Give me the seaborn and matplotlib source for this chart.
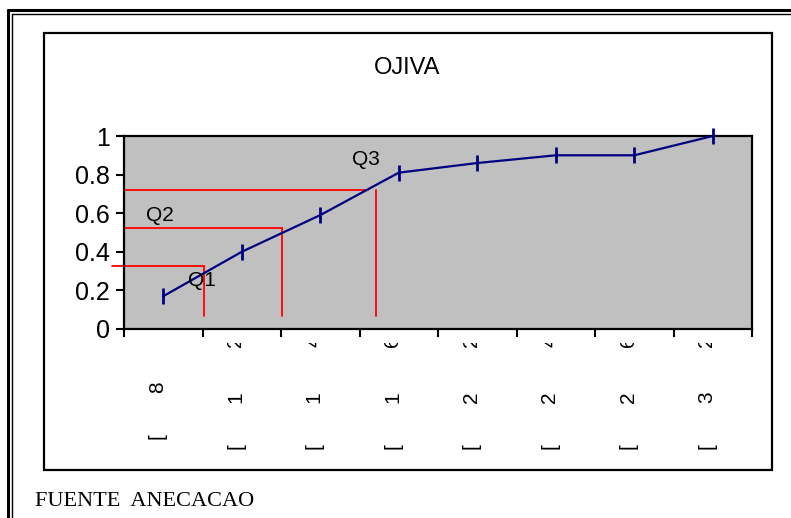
import numpy as np
import pandas as pd
import seaborn as sns
import matplotlib.pyplot as plt
from matplotlib.lines import Line2D
from matplotlib.patches import Rectangle
from matplotlib.transforms import Bbox, TransformedBbox

# data
clases = ["[8", "[12", "[14", "[16", "[22", "[24", "[26", "[32"]
ojiva = [0.17, 0.40, 0.59, 0.81, 0.86, 0.90, 0.90, 1.00]
y_ticks = [0, 0.2, 0.4, 0.6, 0.8, 1]
y_tick_labels = ["0", "0.2", "0.4", "0.6", "0.8", "1"]
cuartiles = ["Q1", "Q2", "Q3"]
q_nivel = [0.326, 0.523, 0.72]
q_x = [0.52, 1.51, 2.71]
q_h_ini = [-0.65, -0.5, -0.5]
q_h_fin = [0.52, 1.51, 2.61]
q_base = 0.067
q_lab_x = [0.49, -0.04, 2.58]
q_lab_y = [0.25, 0.59, 0.88]

sns.set_style("ticks")
plt.rcParams["font.family"] = ["Liberation Sans", "DejaVu Sans"]
plt.rcParams["text.color"] = "black"
plt.rcParams["xtick.color"] = "black"
plt.rcParams["ytick.color"] = "black"

W, H = 791, 518
fig = plt.figure(figsize=(W / 100, H / 100), dpi=100)
ax = fig.add_axes([124 / W, (H - 329) / H, 628 / W, 193 / H])
ax.set_facecolor("#c0c0c0")

df = pd.DataFrame({"pos": np.arange(len(clases)), "clase": clases, "ojiva": ojiva})
sns.lineplot(data=df, x="pos", y="ojiva", color="#000080", linewidth=1.6,
             marker="|", markersize=11, markeredgewidth=2,
             markeredgecolor="#000080", clip_on=False, zorder=3, ax=ax)

# quartile guide lines
for xi, yi, x0, x1 in zip(q_x, q_nivel, q_h_ini, q_h_fin):
    ax.plot([x0, x1], [yi, yi], color="red", lw=1.3, clip_on=False, zorder=2)
    ax.plot([xi, xi], [q_base, yi], color="red", lw=1.3, zorder=2)
for lab, lx, ly in zip(cuartiles, q_lab_x, q_lab_y):
    ax.text(lx, ly, lab, fontsize=15, ha="center", va="center", color="black")

ax.set_xlim(-0.5, len(clases) - 0.5)
ax.set_ylim(0, 1)
ax.set_yticks(y_ticks)
ax.set_yticklabels(y_tick_labels, fontsize=18)
ax.set_xticks(np.arange(len(clases) + 1) - 0.5)
ax.set_xticklabels([])
ax.tick_params(axis="both", direction="out", length=6, width=1.5, color="black")
ax.tick_params(axis="y", pad=4)
ax.set_xlabel("")
ax.set_ylabel("")
for s in ax.spines.values():
    s.set_color("black")
    s.set_linewidth(1.6)

# rotated, clipped category labels under the axis
clip = TransformedBbox(Bbox([[0, 0], [1, (H - 343) / H]]), fig.transFigure)
gaps = [0, 49, 105]
for i, lab in enumerate(clases):
    start = 107 if i == 0 else 117
    for k, ch in enumerate(lab):
        t = ax.annotate(ch, xy=(i, 0), xycoords=("data", "axes fraction"),
                        xytext=(-6, -(start - gaps[k])), textcoords="offset pixels",
                        rotation=90, ha="center", va="center", fontsize=15, color="black")
        t.set_clip_on(True)
        t.set_clip_box(clip)

# frames
fig.patches.append(Rectangle((44 / W, (H - 470) / H), 728 / W, 437 / H, fill=False,
                             edgecolor="black", lw=1.6, transform=fig.transFigure))
fig.lines.append(Line2D([8 / W, 8 / W], [0, 1 - 10 / H], color="black", lw=2.2, transform=fig.transFigure))
fig.lines.append(Line2D([12.5 / W, 12.5 / W], [0, 1 - 14 / H], color="black", lw=1, transform=fig.transFigure))
fig.lines.append(Line2D([8 / W, 1], [1 - 10 / H, 1 - 10 / H], color="black", lw=2.2, transform=fig.transFigure))
fig.lines.append(Line2D([12.5 / W, 1], [1 - 14 / H, 1 - 14 / H], color="black", lw=1, transform=fig.transFigure))

fig.text(407.5 / W, 1 - 67.5 / H, "OJIVA", fontsize=17, ha="center", va="center", color="black")
fig.text(35 / W, 1 - 506.5 / H, "FUENTE  ANECACAO", fontsize=16, ha="left", va="baseline",
         color="black", family=["Liberation Serif", "DejaVu Serif"])

plt.savefig("out.png", dpi=100)
